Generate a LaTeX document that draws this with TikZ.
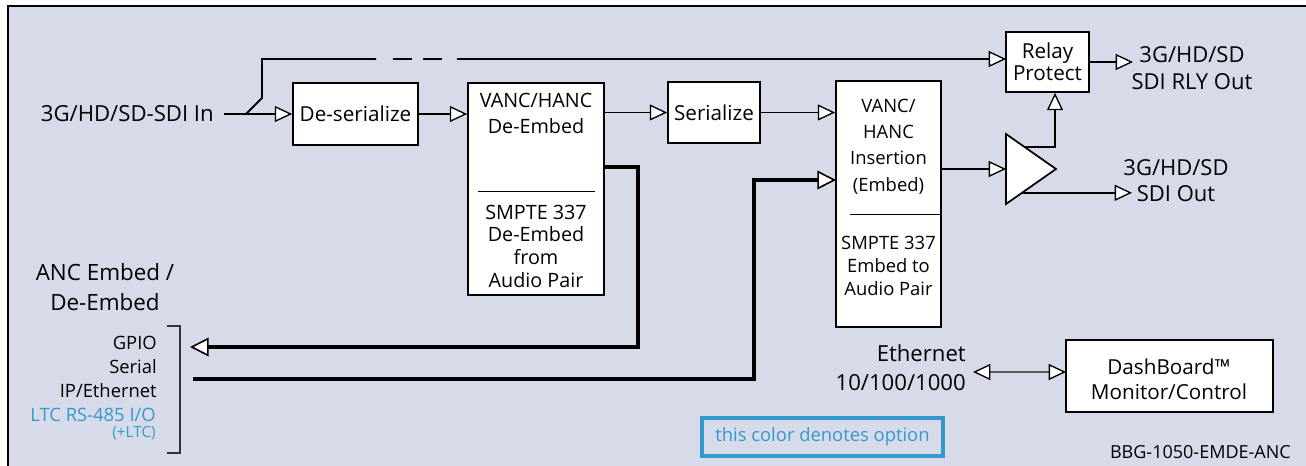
\documentclass[tikz,border=0pt]{standalone}
\usepackage{fontspec}
\setmainfont{Open Sans}
\usetikzlibrary{arrows.meta,fit}
\definecolor{bgc}{RGB}{215,219,233}
\definecolor{optc}{RGB}{51,153,204}
\begin{document}
\begin{tikzpicture}[x=0.75pt,y=-0.75pt,
  font=\fontsize{15.5}{20}\selectfont,
  box/.style={draw, fill=white, line width=1.3pt, inner sep=0pt},
  txt/.style={inner sep=0pt, align=center},
  wire/.style={line width=1.4pt},
  conn/.style={line width=1.4pt, -{Triangle[fill=white,length=13pt,width=12pt,line width=1pt]}},
  heavy/.style={line width=3.2pt, -{Triangle[fill=white,length=14pt,width=14pt,line width=1.2pt]}}]
\useasboundingbox (0,0) rectangle (1306,465);
\fill[bgc] (8,6) rectangle (1320,480);
\draw[line width=2pt] (8,480) -- (8,6) -- (1320,6);

% boxes
\node[box, fit={(293,83)(418,145)}] (des) {};
\node[box, fit={(468,83)(604,295)}] (demb) {};
\node[box, fit={(668,82)(760,143)}] (ser) {};
\node[box, fit={(836,81)(941,327)}] (ins) {};
\node[box, fit={(1006,32)(1089,92)}] (relay) {};
\node[box, fit={(1066,340)(1273,412)}] (dash) {};

% box texts
\node[txt] (desT) at (des.center) {De-serialize};
\node[txt] (serT) at (ser.center) {Serialize};
\node[txt, font=\fontsize{15.5}{16.5}\selectfont] (relayT) at (relay.center) {Relay\\Protect};
\node[txt, font=\fontsize{15.5}{19}\selectfont] (dashT) at (1169,379.5) {DashBoard™\\Monitor/Control};
\node[txt, font=\fontsize{14.8}{20}\selectfont] (dembT) at (536,113.5) {VANC/HANC\\De-Embed};
\node[txt, font=\fontsize{14.8}{17}\selectfont] (dembB) at (536,246) {SMPTE 337\\De-Embed\\from\\Audio Pair};
\draw[line width=0.6pt] (478,191) -- (595,191);
\node[txt, font=\fontsize{13.8}{19.8}\selectfont] (insT) at (888.5,146.5) {VANC/\\HANC\\Insertion\\(Embed)};
\node[txt, font=\fontsize{13.8}{17.2}\selectfont] (insB) at (888.5,266) {SMPTE 337\\Embed to\\Audio Pair};
\draw[line width=0.6pt] (850,214) -- (940,214);

% amplifier
\coordinate (ampT) at (1006,134);
\coordinate (ampB) at (1006,204);
\coordinate (ampA) at (1056,169);
\draw[line width=1.3pt, fill=white] (ampT) -- (ampA) -- (ampB) -- cycle;
\coordinate (ampU) at (1024,146.6);
\coordinate (ampD) at (1022,192.8);

% labels
\node[txt, anchor=east, font=\fontsize{16.6}{20}\selectfont] (inL) at (214,114) {3G/HD/SD-SDI In};
\node[txt, font=\fontsize{16.5}{20}\selectfont] (rlyL) at (1192,68) {3G/HD/SD\\SDI RLY Out};
\node[txt, font=\fontsize{16.5}{20}\selectfont] (outL) at (1176,180.5) {3G/HD/SD\\SDI Out};
\node[txt, font=\fontsize{16.8}{22}\selectfont] (ancL) at (105,287) {ANC Embed /\\De-Embed};
\node[txt, anchor=east, align=right, font=\fontsize{13.8}{18}\selectfont] (gpio) at (157,367) {GPIO\\Serial\\IP/Ethernet};
\node[txt, anchor=east, text=optc, font=\fontsize{13.8}{14}\selectfont] (ltc) at (156,415) {LTC RS-485 I/O};
\node[txt, anchor=east, text=optc, font=\fontsize{11.5}{10}\selectfont] (ltc2) at (156,433) {(+LTC)};
\draw[line width=0.8pt, black!80] (167,326) -- (180,326) -- (180,453) -- (167,453);
\node[txt, anchor=east, align=right, font=\fontsize{16.6}{21.5}\selectfont] (eth) at (966,367.5) {Ethernet\\10/100/1000};
\node[draw=optc, line width=2.4pt, fit={(702,418)(943,456)}, inner sep=0pt] (legend) {};
\node[txt, text=optc, font=\fontsize{13.8}{14}\selectfont] (legendT) at (legend.center) {this color denotes option};
\node[txt, anchor=east, font=\fontsize{13.5}{12}\selectfont] (bbg) at (1291,452) {BBG-1050-EMDE-ANC};

% coordinates
\coordinate (inS) at (224,114);
\coordinate (br) at (246,114);
\coordinate (brA) at (262,98);
\coordinate (brB) at (262,59);
\coordinate (brC) at (376,59);
\coordinate (d1a) at (393,59);
\coordinate (d1b) at (412,59);
\coordinate (d2a) at (423,59);
\coordinate (d2b) at (442,59);
\coordinate (topS) at (457,59);
\coordinate (rlyIn) at (1006,59);
\coordinate (rlyOutS) at (1089,62);
\coordinate (rlyOutE) at (1133,62);
\coordinate (insOut) at (941,169);
\coordinate (ampIn) at (1006,169);
\coordinate (rx) at (1055,146.6);
\coordinate (sdiOut) at (1132,192.8);
\coordinate (dembOut) at (604,167);
\coordinate (h1) at (638,167);
\coordinate (h2) at (638,347);
\coordinate (gpioTip) at (190,347);
\coordinate (serS) at (193,379);
\coordinate (h3) at (754,379);
\coordinate (h4) at (754,180);
\coordinate (insIn) at (836,180);
\coordinate (ethL) at (973,372);
\coordinate (ethR) at (1066,372);

% connectors
\draw[conn] (inS) -- (des.west);
\draw[wire] (br) -- (brA) -- (brB) -- (brC);
\draw[wire] (d1a) -- (d1b);
\draw[wire] (d2a) -- (d2b);
\draw[conn] (topS) -- (rlyIn);
\draw[conn] (des.east) -- (des.east -| demb.west);
\draw[conn] (demb.east |- ser.west) -- (ser.west);
\draw[conn] (ser.east) -- (ser.east -| ins.west);
\draw[conn] (insOut) -- (ampIn);
\draw[conn] (ampU) -- (rx) -- (rx |- relay.south);
\draw[conn] (rlyOutS) -- (rlyOutE);
\draw[conn] (ampD) -- (sdiOut);
\draw[heavy] (dembOut) -- (h1) -- (h2) -- (gpioTip);
\draw[heavy] (serS) -- (h3) -- (h4) -- (insIn);
\draw[line width=1.8pt, black!65, {Triangle[fill=white,length=13pt,width=12pt,line width=1pt,color=black]}-{Triangle[fill=white,length=13pt,width=12pt,line width=1pt,color=black]}] (ethL) -- (ethR);
\end{tikzpicture}
\end{document}
